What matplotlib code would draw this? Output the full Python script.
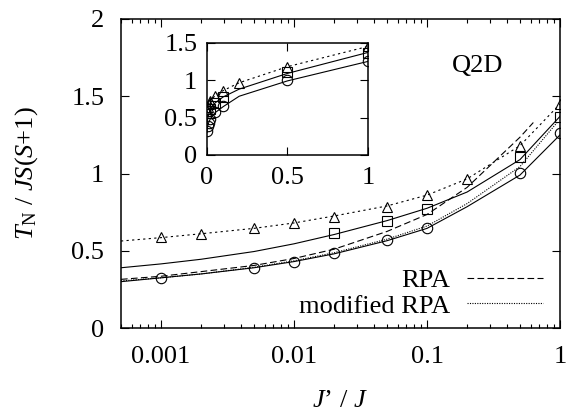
import matplotlib
matplotlib.use("Agg")
import matplotlib.pyplot as plt
from matplotlib.ticker import LogLocator, NullFormatter

plt.rcParams["font.family"] = "serif"
plt.rcParams["font.serif"] = ["Liberation Serif", "DejaVu Serif"]
plt.rcParams["mathtext.fontset"] = "custom"
plt.rcParams["mathtext.rm"] = "Liberation Serif"
plt.rcParams["mathtext.it"] = "Liberation Serif:italic"

# measured transition temperatures (symbols)
x_circ = [0.001, 0.005, 0.01, 0.02, 0.05, 0.1, 0.5, 1.0]
y_circ = [0.325, 0.39, 0.43, 0.485, 0.57, 0.65, 1.005, 1.26]

x_sq = [0.02, 0.05, 0.1, 0.5, 1.0]
y_sq = [0.615, 0.69, 0.77, 1.107, 1.368]

x_tri = [0.001, 0.002, 0.005, 0.01, 0.02, 0.05, 0.1, 0.2, 0.5, 1.0]
y_tri = [0.59, 0.61, 0.647, 0.68, 0.72, 0.785, 0.86, 0.965, 1.178, 1.45]

# fitted / theory curves
x_fit = [0.0005, 0.001, 0.002, 0.005, 0.01, 0.02, 0.05, 0.1, 0.2, 0.5, 1.0]
y_fit_circ = [0.30, 0.325, 0.35, 0.39, 0.43, 0.48, 0.565, 0.645, 0.785, 0.99, 1.25]
y_fit_sq = [0.39, 0.415, 0.445, 0.495, 0.545, 0.605, 0.695, 0.775, 0.88, 1.09, 1.37]
y_fit_tri = [0.563, 0.585, 0.61, 0.645, 0.68, 0.725, 0.79, 0.86, 0.965, 1.18, 1.45]

x_rpa = [0.0005, 0.001, 0.002, 0.005, 0.01, 0.02, 0.05, 0.1, 0.2, 0.5, 0.63]
y_rpa = [0.315, 0.335, 0.365, 0.405, 0.45, 0.51, 0.625, 0.735, 0.91, 1.235, 1.33]

x_mrpa = [0.0005, 0.001, 0.002, 0.005, 0.01, 0.02, 0.05, 0.1, 0.2, 0.5, 0.95]
y_mrpa = [0.305, 0.325, 0.35, 0.393, 0.435, 0.487, 0.575, 0.66, 0.805, 1.045, 1.33]

FS = 19
LW = 0.8
MK = dict(markersize=7.5, markerfacecolor="none", markeredgecolor="black",
          markeredgewidth=0.8, linestyle="none")


def style_axes(ax):
    for s in ax.spines.values():
        s.set_linewidth(1.1)
    ax.tick_params(which="both", direction="in", top=True, right=True,
                   labelsize=FS, width=0.8)
    ax.tick_params(which="major", length=6)
    ax.tick_params(which="minor", length=3)


fig = plt.figure(figsize=(5.67, 4.11), dpi=100)
ax = fig.add_axes([0.2134, 0.2019, 0.7743, 0.7519])

ax.plot(x_fit, y_fit_tri, color="black", lw=LW, ls=(0, (2, 3)))
ax.plot(x_fit, y_fit_sq, color="black", lw=LW, ls="-")
ax.plot(x_fit, y_fit_circ, color="black", lw=LW, ls="-")
ax.plot(x_rpa, y_rpa, color="black", lw=LW, ls=(0, (6, 3)), label="RPA")
ax.plot(x_mrpa, y_mrpa, color="black", lw=LW, ls=(0, (1, 1.2)),
        label="modified RPA")
ax.plot(x_circ, y_circ, marker="o", **MK)
ax.plot(x_sq, y_sq, marker="s", **MK)
ax.plot(x_tri, y_tri, marker="^", **MK)

ax.set_xscale("log")
ax.set_xlim(0.0005, 1)
ax.set_ylim(0, 2)
ax.set_xticks([0.001, 0.01, 0.1, 1])
ax.set_xticklabels(["0.001", "0.01", "0.1", "1"])
ax.xaxis.set_minor_locator(LogLocator(base=10, subs=range(2, 10)))
ax.xaxis.set_minor_formatter(NullFormatter())
ax.set_yticks([0, 0.5, 1, 1.5, 2])
ax.set_yticklabels(["0", "0.5", "1", "1.5", "2"])
style_axes(ax)
ax.tick_params(axis="x", pad=13)
ax.tick_params(axis="y", pad=12)

ax.set_xlabel(r"$J$’ / $J$", fontsize=FS)
ax.set_ylabel(r"$T_{\rm N}$ / $JS$($S$+1)", fontsize=FS)
ax.xaxis.set_label_coords(0.499, -0.2)
ax.yaxis.set_label_coords(-0.184, 0.5)

fig.text(478 / 567, 1 - 66 / 411, "Q2D", fontsize=FS, ha="center", va="center")

leg = ax.legend(loc="lower right", bbox_to_anchor=(1.003, -0.026), frameon=False,
                fontsize=FS, markerfirst=False, handlelength=2.88,
                handletextpad=0.64, labelspacing=0.07, borderpad=0.2)
for t in leg.get_texts():
    t.set_ha("right")

# inset on linear axes
ins = fig.add_axes([0.3651, 0.6229, 0.2839, 0.2732])
ins.plot(x_fit, y_fit_tri, color="black", lw=LW, ls=(0, (2, 3)))
ins.plot(x_fit, y_fit_sq, color="black", lw=LW, ls="-")
ins.plot(x_fit, y_fit_circ, color="black", lw=LW, ls="-")
ins.plot(x_circ, y_circ, marker="o", **MK)
ins.plot(x_sq, y_sq, marker="s", **MK)
ins.plot(x_tri, y_tri, marker="^", **MK)
ins.set_xlim(0, 1)
ins.set_ylim(0, 1.5)
ins.set_xticks([0, 0.5, 1])
ins.set_xticklabels(["0", "0.5", "1"])
ins.set_yticks([0, 0.5, 1, 1.5])
ins.set_yticklabels(["0", "0.5", "1", "1.5"])
style_axes(ins)
ins.tick_params(axis="x", pad=9)
ins.tick_params(axis="y", pad=7)

fig.savefig("out.png", dpi=100, facecolor="white")
